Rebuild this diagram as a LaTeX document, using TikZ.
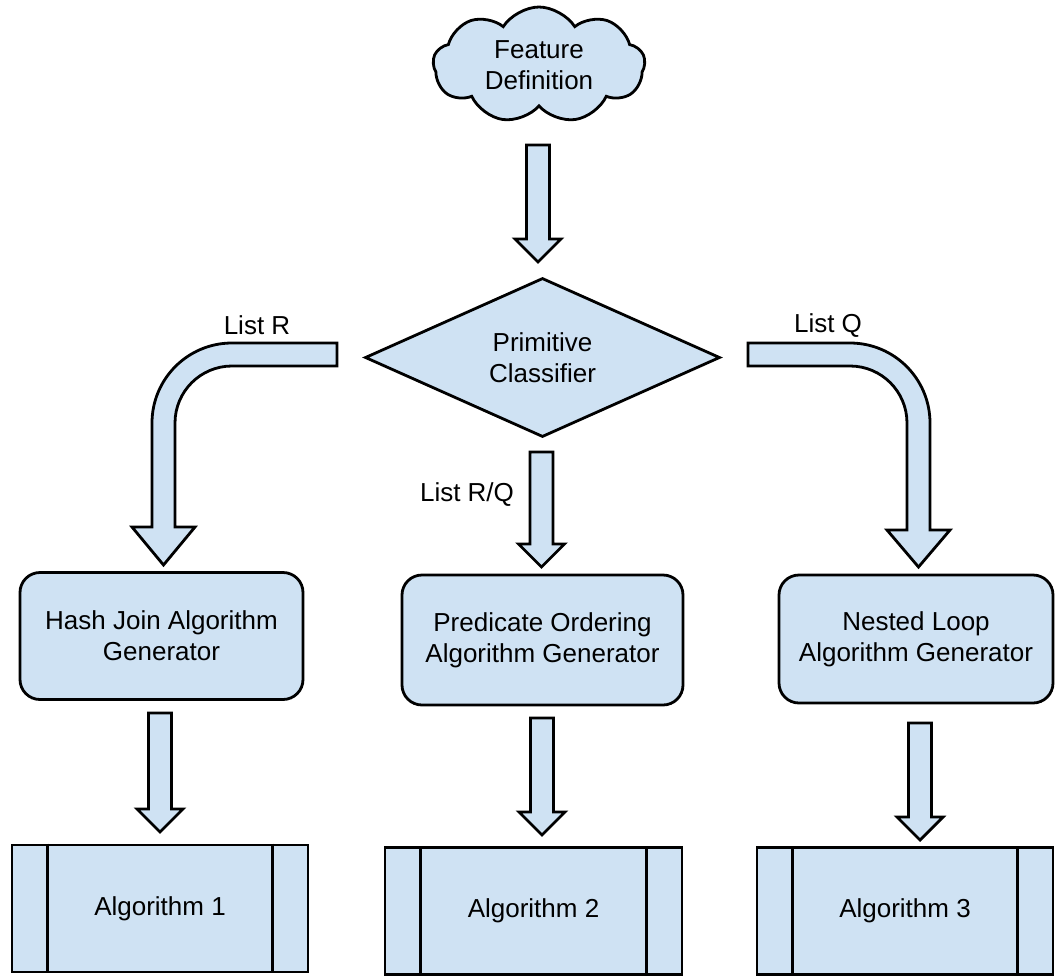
\documentclass[tikz,border=0pt]{standalone}
\usepackage{fontspec}
\setmainfont{Liberation Sans}
\usetikzlibrary{shapes.geometric,shapes.symbols,calc}

\definecolor{boxblue}{HTML}{CFE2F3}

\newcommand{\blockdown}[2]{%
  \draw[block arrow] ($(#1)+(-11.5,0)$) -- ($(#1)+(11.5,0)$)
    -- ($(#1 |- #2)+(11.5,-23)$) -- ($(#1 |- #2)+(23,-23)$)
    -- (#1 |- #2) -- ($(#1 |- #2)+(-23,-23)$)
    -- ($(#1 |- #2)+(-11.5,-23)$) -- cycle;}

\begin{document}
\begin{tikzpicture}[x=1pt,y=-1pt,line width=2.8pt,
    font=\fontsize{26}{31}\selectfont,
    block arrow/.style={draw,fill=boxblue,line join=miter},
    cloud node/.style={cloud,cloud puffs=9,cloud puff arc=115,aspect=1.9,draw,fill=boxblue,
      minimum width=212pt,minimum height=116pt,align=center},
    decision node/.style={diamond,draw,fill=boxblue,aspect=2.23,minimum width=355pt,
      minimum height=159pt,inner sep=0pt,align=center},
    process node/.style={rectangle,rounded corners=20pt,draw,fill=boxblue,align=center},
    algo node/.style={rectangle,draw,fill=boxblue,minimum width=296pt,minimum height=127pt}]

\useasboundingbox (0,0) rectangle (1055,975);

\node[cloud node] (feature) at (539,65) {Feature\\Definition};
\node[decision node] (classifier) at (542.5,357.5) {Primitive\\Classifier};

\node[process node,minimum width=283pt,minimum height=127pt] (hashgen) at (161.5,636) {Hash Join Algorithm\\Generator};
\node[process node,minimum width=281pt,minimum height=130pt] (predgen) at (542.5,640) {Predicate Ordering\\Algorithm Generator};
\node[process node,minimum width=274pt,minimum height=128pt] (nestgen) at (916,639) {Nested Loop\\Algorithm Generator};

\node[algo node] (alg1) at (160,908.5) {Algorithm 1};
\node[algo node,minimum width=297pt] (alg2) at (533.5,911) {Algorithm 2};
\node[algo node] (alg3) at (905,911) {Algorithm 3};

% side bars of the algorithm boxes
\draw ($(alg1.north west)+(37,0)$) -- ($(alg1.south west)+(37,0)$);
\draw ($(alg1.north east)+(-37,0)$) -- ($(alg1.south east)+(-37,0)$);
\draw ($(alg2.north west)+(37,0)$) -- ($(alg2.south west)+(37,0)$);
\draw ($(alg2.north east)+(-37,0)$) -- ($(alg2.south east)+(-37,0)$);
\draw ($(alg3.north west)+(37,0)$) -- ($(alg3.south west)+(37,0)$);
\draw ($(alg3.north east)+(-37,0)$) -- ($(alg3.south east)+(-37,0)$);

% straight block arrows
\coordinate (f1) at (538,145);   \coordinate (f2) at (538,262);
\coordinate (c1) at (541.5,452); \coordinate (c2) at (541.5,567);
\coordinate (h1) at (160,713);   \coordinate (h2) at (160,832);
\coordinate (p1) at (542,718);   \coordinate (p2) at (542,835);
\coordinate (n1) at (920,723);   \coordinate (n2) at (920,840);
\blockdown{f1}{f2}
\blockdown{c1}{c2}
\blockdown{h1}{h2}
\blockdown{p1}{p2}
\blockdown{n1}{n2}

% bent arrows out of the classifier
\draw[block arrow] (337,343) -- (232,343) arc[start angle=90,end angle=180,radius=80pt]
  -- (152,527) -- (132,527) -- (163.5,565) -- (195,527) -- (175,527) -- (175,423)
  arc[start angle=180,end angle=90,radius=57pt] -- (337,366) -- cycle;
\draw[block arrow] (748,343) -- (850,343) arc[start angle=90,end angle=0,radius=80pt]
  -- (930,530) -- (950,530) -- (918.5,567) -- (887,530) -- (907,530) -- (907,423)
  arc[start angle=0,end angle=90,radius=57pt] -- (748,366) -- cycle;

\node (listr) at (257,325) {List R};
\node (listq) at (828,326) {List Q};
\node (listrq) at (467,495) {List R/Q};

\end{tikzpicture}
\end{document}
